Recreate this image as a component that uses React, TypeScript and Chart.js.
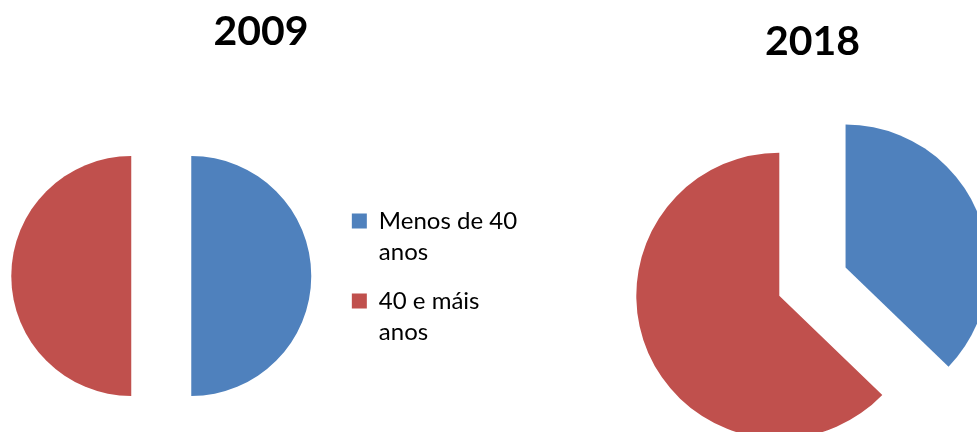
import React, { useEffect, useRef } from 'react';
import { Chart, registerables, ArcElement, PieController } from 'chart.js';

Chart.register(...registerables);

// ---- data ----
const categories = ['Menos de 40 anos', '40 e máis anos'];
const legendLines = [
  ['Menos de 40\u00a0', 'anos'],
  ['40 e máis', 'anos'],
];
const years = ['2009', '2018'];
const values2009 = [50, 50];
const values2018 = [37.2, 62.8];
const explode2009 = [30, 30];
const explode2018 = [72, 0];
const sliceColors = ['#4F81BD', '#C0504D'];

const FONT = 'Lato, "Open Sans", sans-serif';

// Pie slice that is pulled out of the pie along its mid angle (straight edges, no trimming)
class ExplodedArc extends ArcElement {
  static id = 'explodedArc';
  draw(ctx: CanvasRenderingContext2D) {
    const self: any = this;
    const { x, y, startAngle, endAngle, outerRadius, circumference } = self.getProps([
      'x',
      'y',
      'startAngle',
      'endAngle',
      'outerRadius',
      'circumference',
    ]);
    const opts = self.options;
    if (!circumference || outerRadius <= 0) return;
    const off = opts.offset || 0;
    const mid = (startAngle + endAngle) / 2;
    ctx.save();
    ctx.translate(Math.cos(mid) * off, Math.sin(mid) * off);
    ctx.beginPath();
    ctx.moveTo(x, y);
    ctx.arc(x, y, outerRadius, startAngle, endAngle);
    ctx.closePath();
    ctx.fillStyle = opts.backgroundColor;
    ctx.fill();
    ctx.restore();
  }
}

class ExplodedPieController extends PieController {
  static id = 'explodedPie';
  static defaults = { dataElementType: 'explodedArc' };
}

Chart.register(ExplodedArc as any, ExplodedPieController as any);

type PieProps = {
  values: number[];
  title: string;
  titleAlign: 'start' | 'center' | 'end';
  titlePadding: { top: number; bottom: number };
  offsets: number[];
  radius: number;
  showLegend: boolean;
  padding: { left: number; right: number; top: number; bottom: number };
  left: number;
  width: number;
  height: number;
};

function PieChart(props: PieProps) {
  const ref = useRef<HTMLCanvasElement | null>(null);
  useEffect(() => {
    if (!ref.current) return;
    const chart = new Chart(ref.current, {
      type: 'explodedPie' as any,
      data: {
        labels: categories,
        datasets: [
          {
            data: props.values,
            backgroundColor: sliceColors,
            borderWidth: 0,
            offset: props.offsets,
            hoverOffset: 0,
            radius: props.radius,
            cutout: '0%',
            clip: false,
          } as any,
        ],
      },
      options: {
        animation: false,
        responsive: false,
        events: [],
        layout: { padding: props.padding },
        plugins: {
          tooltip: { enabled: false },
          title: {
            display: true,
            text: props.title,
            align: props.titleAlign,
            color: '#000000',
            font: { family: FONT, size: 41, weight: 'bold', lineHeight: 1.2 },
            padding: props.titlePadding,
          },
          legend: {
            display: props.showLegend,
            position: 'right',
            align: 'center',
            fullSize: false,
            title: { display: true, text: '', padding: 0, font: { size: 8, lineHeight: 1 } },
            labels: {
              boxWidth: 15,
              boxHeight: 15,
              padding: 18,
              color: '#000000',
              font: { family: FONT, size: 24, lineHeight: 31 / 24 },
              generateLabels: () =>
                legendLines.map((lines, i) => ({
                  text: lines,
                  fillStyle: sliceColors[i],
                  strokeStyle: sliceColors[i],
                  fontColor: '#000000',
                  lineWidth: 0,
                  hidden: false,
                  index: i,
                })) as any,
            },
          },
        },
      } as any,
    });
    return () => chart.destroy();
  }, []);
  return (
    <canvas
      ref={ref}
      width={props.width}
      height={props.height}
      style={{
        position: 'absolute',
        left: props.left,
        top: 0,
        width: props.width,
        height: props.height,
        display: 'block',
      }}
    />
  );
}

export default function App() {
  return (
    <div
      style={{
        position: 'fixed',
        left: 0,
        top: 0,
        width: 977,
        height: 432,
        overflow: 'hidden',
        background: '#ffffff',
      }}
    >
      <PieChart
        values={values2009}
        title={years[0]}
        titleAlign="center"
        titlePadding={{ top: 7.4, bottom: 0 }}
        offsets={explode2009}
        radius={120}
        showLegend={true}
        padding={{ left: 2.7, right: 4.8, top: 0, bottom: 0.6 }}
        left={-14}
        width={552}
        height={496}
      />
      <PieChart
        values={values2018}
        title={years[1]}
        titleAlign="end"
        titlePadding={{ top: 17.4, bottom: 92.8 }}
        offsets={explode2018}
        radius={143}
        showLegend={false}
        padding={{ left: 98.6, right: 117, top: 0, bottom: 0 }}
        left={600}
        width={377}
        height={432}
      />
    </div>
  );
}
